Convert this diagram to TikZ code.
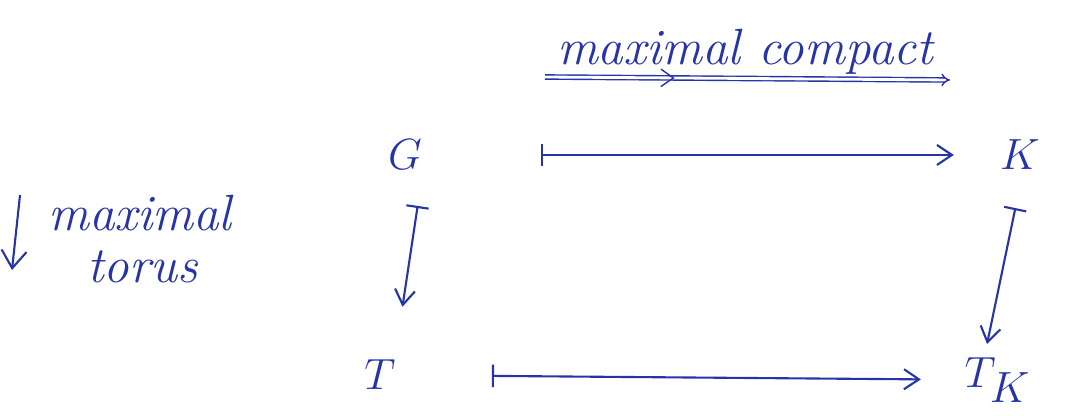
\documentclass[tikz,border=0pt]{standalone}
\usepackage{amsmath,amssymb}
\usepackage{xcolor}
\usepackage{tikz}
\usetikzlibrary{arrows.meta,positioning,calc,decorations.markings}
\definecolor{ink}{RGB}{38,52,168}
\tikzset{
  obj/.style={text=ink, font=\fontsize{34}{40}\selectfont, inner sep=2pt},
  note/.style={text=ink, font=\itshape\fontsize{29}{34}\selectfont, inner sep=1pt},
  mapsto/.style={draw=ink, line width=1.2pt, {Bar[width=4.5mm]}-{Straight Barb[length=3mm,width=4mm]}},
  down/.style={draw=ink, line width=1.2pt, -{Straight Barb[length=3.5mm,width=5mm]}},
  twoline/.style={draw=ink, line width=0.8pt, double, double distance=1.6pt, -{Implies},
    postaction={decorate, decoration={markings, mark=at position 0.32 with {\arrow[ink, line width=0.8pt]{Straight Barb[length=2.5mm,width=3.5mm]}}}}},
}

\begin{document}
\begin{tikzpicture}
  \useasboundingbox (0,0) rectangle (21.3,8.32);
  % the square
  \node[obj] (G) at (8.10,5.22) {$G$};
  \node[obj] (K) at (20.40,5.22) {$K$};
  \node[obj] (T) at (7.60,0.82) {$T$};
  \node[obj] (TK) at (19.95,0.72) {$T_K$};
  \draw[mapsto, shorten <=2.3cm, shorten >=0.85cm] (G) -- (K);
  \draw[mapsto, shorten <=1.85cm, shorten >=0.8cm] (T) -- (TK);
  \draw[mapsto, shorten <=0.65cm, shorten >=1.0cm] ([xshift=0.35cm]G.south) -- ([xshift=0.3cm]T.north);
  \draw[mapsto, shorten <=0.7cm, shorten >=0.2cm] ([xshift=0.05cm]K.south) -- ([xshift=-0.25cm]TK.north);
  % legend: top
  \node[note] (cpt) at (14.9,7.28) {maximal compact};
  \coordinate (c0) at (10.9,6.78);
  \coordinate (c1) at (19.0,6.72);
  \draw[twoline] (c0) -- (c1);
  % legend: left
  \node[note] (maxl) at (2.8,4.05) {maximal};
  \node[note, below=0.3cm of maxl, xshift=0.05cm] (tor) {torus};
  \coordinate (t0) at (0.40,4.42);
  \coordinate (t1) at (0.24,2.92);
  \draw[down] (t0) -- (t1);
\end{tikzpicture}
\end{document}
